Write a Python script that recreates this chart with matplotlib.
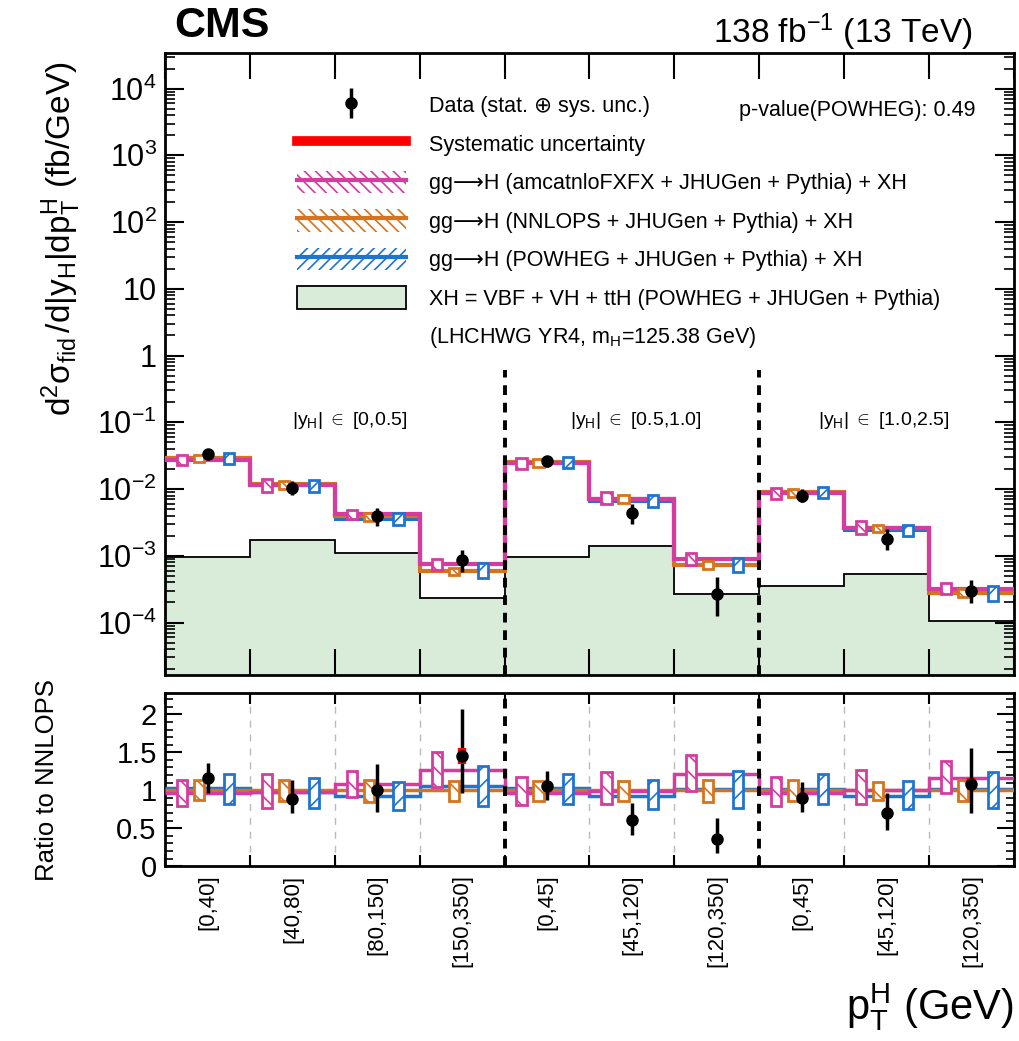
import matplotlib
matplotlib.use("Agg")
import matplotlib.pyplot as plt
from matplotlib.patches import Patch, Rectangle
from matplotlib.lines import Line2D
from matplotlib.ticker import FixedLocator, MultipleLocator, NullFormatter
import numpy as np

plt.rcParams['font.family'] = ['Liberation Sans', 'DejaVu Sans']
plt.rcParams['mathtext.fontset'] = 'custom'
plt.rcParams['mathtext.rm'] = 'Liberation Sans'
plt.rcParams['mathtext.it'] = 'Liberation Sans'
plt.rcParams['mathtext.bf'] = 'Liberation Sans:bold'
plt.rcParams['hatch.linewidth'] = 1.2

# ---- data ----
bin_labels = ['[0,40]', '[40,80]', '[80,150]', '[150,350]',
              '[0,45]', '[45,120]', '[120,350]',
              '[0,45]', '[45,120]', '[120,350]']
region_labels = [r'$|y_{H}|\ {\in}$ [0,0.5]', r'$|y_{H}|\ {\in}$ [0.5,1.0]', r'$|y_{H}|\ {\in}$ [1.0,2.5]']
region_x = [2.18, 5.54, 8.47]
region_edges = [4, 7]

# cross sections (fb/GeV)
xs_nnlops = [0.0288, 0.0117, 0.0039, 0.00059, 0.025, 0.0072, 0.00074, 0.0089, 0.0026, 0.00028]
xs_amc = [0.0277, 0.0115, 0.0042, 0.00075, 0.0243, 0.0071, 0.0009, 0.0086, 0.0026, 0.00032]
xs_powheg = [0.0297, 0.0115, 0.0036, 0.00062, 0.0258, 0.0067, 0.00075, 0.0091, 0.0024, 0.00028]
xs_data = [0.0334, 0.0104, 0.0039, 0.00086, 0.0263, 0.0044, 0.00027, 0.0080, 0.0018, 0.00030]
xs_xh = [0.00095, 0.0017, 0.0011, 0.00023, 0.00095, 0.00138, 0.00027, 0.00035, 0.00054, 0.000107]

# ratio to NNLOPS
r_amc = [0.96, 0.98, 1.08, 1.27, 0.97, 0.99, 1.21, 0.97, 1.00, 1.16]
r_powheg = [1.03, 0.98, 0.92, 1.05, 1.03, 0.93, 1.01, 1.02, 0.93, 1.01]
r_data = [1.16, 0.89, 1.00, 1.45, 1.05, 0.61, 0.36, 0.90, 0.70, 1.08]
r_data_lo = [0.97, 0.70, 0.71, 0.96, 0.87, 0.41, 0.17, 0.71, 0.47, 0.70]
r_data_hi = [1.36, 1.14, 1.34, 2.07, 1.25, 0.83, 0.64, 1.11, 0.96, 1.55]
r_syst = [0.05, 0.03, 0.03, 0.10, 0.03, 0.03, 0.03, 0.04, 0.03, 0.08]

# theory uncertainty boxes (ratio to NNLOPS)
amc_lo = [0.79, 0.76, 0.91, 1.04, 0.80, 0.82, 0.99, 0.79, 0.82, 0.97]
amc_hi = [1.14, 1.21, 1.25, 1.51, 1.17, 1.24, 1.47, 1.17, 1.26, 1.38]
nnl_lo = [0.87, 0.86, 0.84, 0.86, 0.86, 0.86, 0.85, 0.86, 0.87, 0.86]
nnl_hi = [1.13, 1.13, 1.14, 1.12, 1.12, 1.12, 1.13, 1.13, 1.11, 1.14]
pow_lo = [0.82, 0.76, 0.74, 0.79, 0.82, 0.75, 0.76, 0.82, 0.75, 0.76]
pow_hi = [1.21, 1.16, 1.11, 1.32, 1.21, 1.13, 1.25, 1.22, 1.12, 1.24]

c_amc = '#d53c9f'
c_nnl = '#d7731c'
c_pow = '#1f74d2'
c_xh = '#d9ecd9'

nb = len(bin_labels)
edges = np.arange(nb + 1)
ymin, ymax = 10**-4.78, 10**4.54

fig = plt.figure(figsize=(10.19, 10.41), dpi=100)
ax1 = fig.add_axes([0.162, 0.352, 0.833, 0.5975])
ax2 = fig.add_axes([0.162, 0.168, 0.833, 0.1662])

nnl = np.array(xs_nnlops)

# ---- top panel ----
ax1.stairs(xs_xh, edges, baseline=ymin, fill=True, color=c_xh, zorder=1)
ax1.stairs(xs_xh, edges, baseline=None, color='black', lw=1.3, zorder=2)
ax1.stairs(xs_powheg, edges, baseline=None, color=c_pow, lw=2.2, zorder=3)
ax1.stairs(xs_nnlops, edges, baseline=None, color=c_nnl, lw=3, zorder=4)
ax1.stairs(xs_amc, edges, baseline=None, color=c_amc, lw=3, zorder=5)


def draw_boxes(ax, scale, lo, hi, off, color, hatch):
    for i in range(nb):
        y0 = scale[i] * lo[i]
        y1 = scale[i] * hi[i]
        ax.add_patch(Rectangle((i + off - 0.06, y0), 0.12, y1 - y0, facecolor='white',
                               edgecolor=color, hatch=hatch, lw=2, zorder=6))


draw_boxes(ax1, nnl, amc_lo, amc_hi, 0.2, c_amc, '\\\\')
draw_boxes(ax1, nnl, nnl_lo, nnl_hi, 0.4, c_nnl, '\\\\')
draw_boxes(ax1, nnl, pow_lo, pow_hi, 0.75, c_pow, '//')

xd = edges[:-1] + 0.5
xs_d = np.array(xs_data)
top_lo = nnl * np.array(r_data_lo)
top_hi = nnl * np.array(r_data_hi)
ax1.vlines(xd, top_lo, top_hi, color='black', lw=2.5, zorder=8)
ax1.plot(xd, xs_d, 'o', color='black', ms=8, zorder=9)

for e in region_edges:
    ax1.vlines(e, ymin, 0.6, color='black', linestyles=(0, (2.5, 2)), lw=2.8, zorder=7)

for x, t in zip(region_x, region_labels):
    ax1.text(x, 10**-0.97, t, ha='center', va='center', fontsize=14)

ax1.set_yscale('log')
ax1.set_ylim(ymin, ymax)
ax1.set_xlim(0, nb)
ax1.set_xticks(edges)
ax1.xaxis.set_major_formatter(NullFormatter())
ax1.tick_params(axis='x', which='major', direction='in', length=19, width=1.5, top=True, bottom=True)
ax1.yaxis.set_major_locator(FixedLocator([10.0**k for k in range(-4, 5)]))
ytl = []
for k in range(-4, 5):
    if k == 0:
        ytl.append('1')
    elif k == 1:
        ytl.append('10')
    else:
        ytl.append(r'$10^{%d}$' % k)
ax1.set_yticklabels(ytl)
ax1.yaxis.set_minor_locator(FixedLocator([m * 10.0**k for k in range(-5, 5) for m in range(2, 10)]))
ax1.yaxis.set_minor_formatter(NullFormatter())
ax1.tick_params(axis='y', which='major', direction='in', length=14, width=1.5, left=True, right=True, labelsize=22, pad=6)
ax1.tick_params(axis='y', which='minor', direction='in', length=7, width=1.2, left=True, right=True)
for s in ax1.spines.values():
    s.set_linewidth(2)
ax1.set_ylabel(r'$\mathregular{d^{2}\sigma_{fid}\,/d|y_{H}|dp_{T}^{H}}$ (fb/GeV)', fontsize=24)
ax1.yaxis.set_label_coords(-0.097, 0.7)

# legend
h_data = (Line2D([], [], color='black', marker='|', ms=22, mew=2.5, ls='none'),
          Line2D([], [], color='black', marker='o', ms=8, ls='none'))
h_syst = Line2D([], [], color='red', lw=7)
h_amc = (Patch(facecolor='white', edgecolor=c_amc, hatch='\\\\\\', lw=0), Line2D([], [], color=c_amc, lw=3))
h_nnl = (Patch(facecolor='white', edgecolor=c_nnl, hatch='\\\\\\', lw=0), Line2D([], [], color=c_nnl, lw=3))
h_pow = (Patch(facecolor='white', edgecolor=c_pow, hatch='///', lw=0), Line2D([], [], color=c_pow, lw=3))
h_xh = Patch(facecolor=c_xh, edgecolor='black', lw=1.3)
h_none = Line2D([], [], ls='none')
labels = ['Data (stat. \u2295 sys. unc.)', 'Systematic uncertainty',
          'gg\u27f6H (amcatnloFXFX + JHUGen + Pythia) + XH',
          'gg\u27f6H (NNLOPS + JHUGen + Pythia) + XH',
          'gg\u27f6H (POWHEG + JHUGen + Pythia) + XH',
          'XH = VBF + VH + ttH (POWHEG + JHUGen + Pythia)',
          r'(LHCHWG YR4, m$_{H}$=125.38 GeV)']
ax1.legend([h_data, h_syst, h_amc, h_nnl, h_pow, h_xh, h_none], labels,
           loc='upper left', bbox_to_anchor=(0.155, 0.934), frameon=False, fontsize=15.5,
           handlelength=5.06, handleheight=1.25, handletextpad=1.07, labelspacing=0.69,
           borderpad=0, borderaxespad=0)

ax1.text(0.955, 0.907, 'p-value(POWHEG): 0.49', transform=ax1.transAxes, ha='right', va='center', fontsize=15.5)
fig.text(0.171, 0.975, 'CMS', fontsize=31, fontweight='bold', ha='left', va='center')
fig.text(0.955, 0.969, r'138 fb$^{\mathregular{-1}}$ (13 TeV)', fontsize=24, ha='right', va='center')

# ---- ratio panel ----
ones = np.ones(nb)
ax2.stairs(r_powheg, edges, baseline=None, color=c_pow, lw=2.5, zorder=3)
ax2.stairs(ones, edges, baseline=None, color=c_nnl, lw=2.5, zorder=4)
ax2.stairs(r_amc, edges, baseline=None, color=c_amc, lw=2.5, zorder=5)
draw_boxes(ax2, ones, amc_lo, amc_hi, 0.2, c_amc, '\\\\')
draw_boxes(ax2, ones, nnl_lo, nnl_hi, 0.4, c_nnl, '\\\\')
draw_boxes(ax2, ones, pow_lo, pow_hi, 0.75, c_pow, '//')
rd = np.array(r_data)
rs = np.array(r_syst)
ax2.vlines(xd, r_data_lo, r_data_hi, color='black', lw=2.5, zorder=8)
ax2.vlines(xd, rd - rs, rd + rs, color='red', lw=6, zorder=8.5)
ax2.plot(xd, rd, 'o', color='black', ms=8, zorder=9)

for e in edges[1:-1]:
    if e in region_edges:
        ax2.axvline(e, color='black', ls=(0, (2.5, 2)), lw=2.8, zorder=7)
    else:
        ax2.axvline(e, color='#bbbbbb', ls=(0, (5, 5)), lw=1, zorder=0)

ax2.set_xlim(0, nb)
ax2.set_ylim(0, 2.28)
ax2.set_xticks(xd)
ax2.set_xticklabels(bin_labels, rotation=90, fontsize=16)
ax2.set_xticks(edges, minor=True)
ax2.tick_params(axis='x', which='major', length=0, pad=6)
ax2.tick_params(axis='x', which='minor', direction='in', length=8, width=1.5, top=True, bottom=True)
ax2.set_yticks([0, 0.5, 1, 1.5, 2])
ax2.set_yticklabels(['0', '0.5', '1', '1.5', '2'])
ax2.yaxis.set_minor_locator(MultipleLocator(0.1))
ax2.tick_params(axis='y', which='major', direction='in', length=12, width=1.5, left=True, right=True, labelsize=21, pad=6)
ax2.tick_params(axis='y', which='minor', direction='in', length=6, width=1.2, left=True, right=True)
for s in ax2.spines.values():
    s.set_linewidth(2)
ax2.set_ylabel('Ratio to NNLOPS', fontsize=18.5)
ax2.yaxis.set_label_coords(-0.125, 0.5)
fig.text(0.995, 0.033, r'p$_{T}^{H}$ (GeV)', fontsize=30, ha='right', va='center')

fig.savefig('out.png', dpi=100)
